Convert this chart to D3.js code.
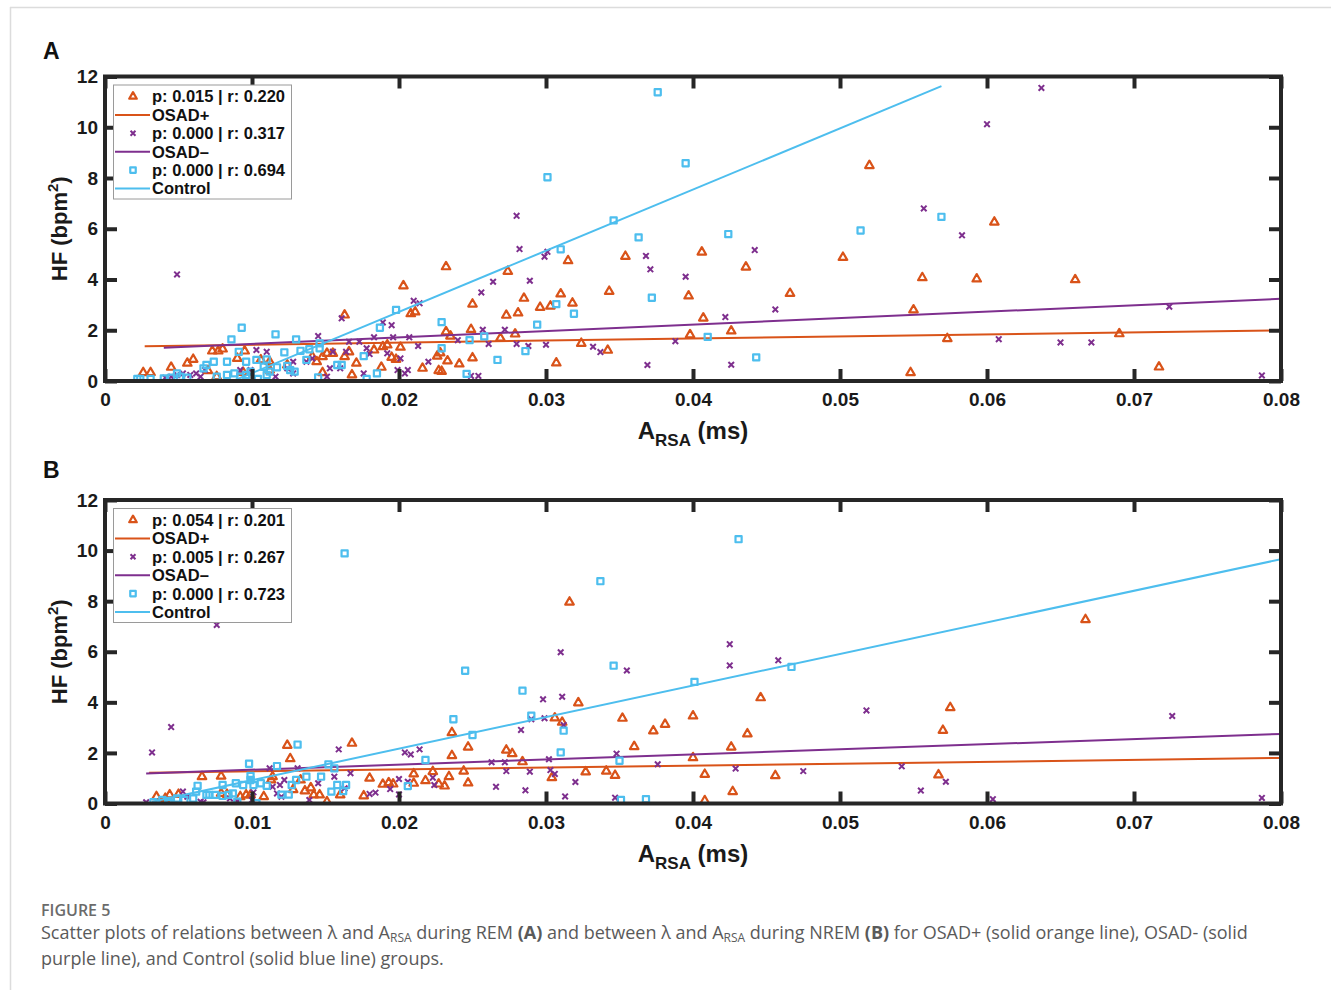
<!DOCTYPE html>
<html>
<head>
<meta charset="utf-8">
<script src="https://cdn.jsdelivr.net/npm/d3@7"></script>
<style>
  body { margin: 0; background: #fff; }
  svg text { font-family: "Liberation Sans", Arial, Helvetica, sans-serif; }
  svg .caption text { font-family: "Open Sans", "Noto Sans", sans-serif; }
</style>
</head>
<body>
<svg id="fig" width="1331" height="990"></svg>
<script>
// ---- data ----
const xTicks = [0, 0.01, 0.02, 0.03, 0.04, 0.05, 0.06, 0.07, 0.08];
const xTickLabels = ['0', '0.01', '0.02', '0.03', '0.04', '0.05', '0.06', '0.07', '0.08'];
const yTicks = [0, 2, 4, 6, 8, 10, 12];
const groupNames = ['OSAD+', 'OSAD\u2013', 'Control'];
const groupColors = ['#D95319', '#7E2F8E', '#4DBEEE'];

const remStats = ['p: 0.015 | r: 0.220', 'p: 0.000 | r: 0.317', 'p: 0.000 | r: 0.694'];
const nremStats = ['p: 0.054 | r: 0.201', 'p: 0.005 | r: 0.267', 'p: 0.000 | r: 0.723'];

// panel A (REM): [A_RSA, HF]
const remOsadPos = [
  [0.0520,8.49],[0.0232,4.5],[0.0274,4.32],[0.0315,4.74],[0.0354,4.91],[0.0406,5.08],[0.0502,4.87],
  [0.0436,4.49],[0.0556,4.07],[0.0250,3.03],[0.0285,3.26],[0.0310,3.43],[0.0343,3.53],[0.0466,3.45],
  [0.0397,3.35],[0.0296,2.9],[0.0303,2.95],[0.0318,3.07],[0.0273,2.59],[0.0281,2.68],[0.0550,2.8],
  [0.0407,2.48],[0.0426,1.97],[0.0398,1.82],[0.0232,1.94],[0.0235,1.77],[0.0249,2.03],[0.0269,1.69],
  [0.0279,1.85],[0.0324,1.48],[0.0342,1.21],[0.0250,0.91],[0.0233,0.79],[0.0241,0.67],[0.0307,0.71],
  [0.0548,0.33],[0.0229,0.38],[0.0605,6.26],[0.0593,4.02],[0.0660,3.99],[0.0573,1.67],[0.0690,1.86],
  [0.0717,0.55],[0.0203,3.75],[0.0163,2.6],[0.0208,2.65],[0.0211,2.72],[0.0073,1.18],[0.0077,1.18],
  [0.0080,1.26],[0.0095,1.18],[0.0060,0.85],[0.0056,0.7],[0.0045,0.54],[0.0026,0.33],[0.0031,0.33],
  [0.0070,0.41],[0.0076,0.17],[0.0090,0.89],[0.0106,0.83],[0.0112,0.76],[0.0112,0.43],[0.0094,0.34],
  [0.0124,0.63],[0.0141,0.96],[0.0144,0.76],[0.0148,0.96],[0.0151,1.09],[0.0155,1.09],[0.0163,0.96],
  [0.0166,1.15],[0.0171,0.7],[0.0168,0.24],[0.0148,0.33],[0.0189,1.35],[0.0192,1.42],[0.0195,0.93],
  [0.0198,0.85],[0.0201,1.33],[0.0216,0.5],[0.0227,0.41],[0.0226,0.98],[0.0228,1.11],[0.0188,0.54],
  [0.0183,1.22]
];
const remOsadNeg = [
  [0.0280,6.51],[0.0282,5.2],[0.0299,4.9],[0.0301,5.09],[0.0368,4.93],[0.0371,4.4],[0.0442,5.16],
  [0.0395,4.11],[0.0264,3.91],[0.0289,3.95],[0.0256,3.49],[0.0456,2.82],[0.0422,2.52],[0.0257,2.02],
  [0.0272,2.02],[0.0240,1.61],[0.0261,1.46],[0.0280,1.46],[0.0288,1.38],[0.0300,1.43],[0.0332,1.35],
  [0.0337,1.14],[0.0388,1.57],[0.0369,0.63],[0.0426,0.64],[0.0249,0.2],[0.0254,0.2],[0.0637,11.55],
  [0.0600,10.12],[0.0557,6.8],[0.0583,5.74],[0.0724,2.93],[0.0608,1.65],[0.0650,1.52],[0.0671,1.52],
  [0.0787,0.22],[0.0049,4.2],[0.0161,2.47],[0.0210,3.16],[0.0214,3.06],[0.0189,2.31],[0.0195,2.2],
  [0.0145,1.77],[0.0166,1.55],[0.0173,1.55],[0.0183,1.72],[0.0196,1.72],[0.0207,1.72],[0.0213,1.38],
  [0.0103,1.22],[0.0110,1.15],[0.0128,0.76],[0.0141,0.89],[0.0155,1.15],[0.0164,1.15],[0.0178,1.29],
  [0.0180,1.06],[0.0192,1.09],[0.0201,0.89],[0.0153,0.5],[0.0160,0.5],[0.0151,0.17],[0.0176,0.3],
  [0.0199,0.43],[0.0204,0.3],[0.0206,0.43],[0.0220,0.76],[0.0053,0.3],[0.0058,0.24],[0.0062,0.3],
  [0.0065,0.17],[0.0041,0.13],[0.0045,0.17],[0.0049,0.24],[0.0068,0.43],[0.0092,0.43],[0.0099,0.43],
  [0.0116,0.17],[0.0124,0.5],[0.0128,0.3],[0.0137,0.76]
];
const remControl = [
  [0.0376,11.38],[0.0395,8.58],[0.0301,8.03],[0.0346,6.33],[0.0363,5.66],[0.0424,5.79],[0.0310,5.19],
  [0.0514,5.93],[0.0569,6.47],[0.0372,3.28],[0.0307,3.03],[0.0319,2.65],[0.0229,2.32],[0.0294,2.22],
  [0.0258,1.76],[0.0248,1.61],[0.0410,1.74],[0.0286,1.18],[0.0229,1.29],[0.0267,0.83],[0.0443,0.93],
  [0.0246,0.28],[0.0093,2.1],[0.0116,1.84],[0.0086,1.64],[0.0130,1.64],[0.0198,2.8],[0.0187,2.1],
  [0.0091,1.15],[0.0122,1.13],[0.0133,1.19],[0.0139,1.25],[0.0146,1.29],[0.0146,1.48],[0.0074,0.76],
  [0.0083,0.76],[0.0096,0.76],[0.0103,0.83],[0.0110,0.85],[0.0069,0.63],[0.0108,0.56],[0.0117,0.54],
  [0.0124,0.59],[0.0126,0.43],[0.0129,0.37],[0.0137,0.83],[0.0158,0.63],[0.0161,0.63],[0.0176,0.98],
  [0.0185,0.3],[0.0178,0.08],[0.0145,0.14],[0.0022,0.08],[0.0024,0.08],[0.0031,0.08],[0.0040,0.1],
  [0.0045,0.13],[0.0051,0.17],[0.0056,0.13],[0.0049,0.3],[0.0076,0.17],[0.0083,0.24],[0.0088,0.3],
  [0.0092,0.17],[0.0096,0.24],[0.0099,0.37],[0.0104,0.08],[0.0110,0.24],[0.0112,0.37],[0.0067,0.5]
];
// fitted lines: [start, end] for OSAD+, OSAD-, Control
const remFits = [
  [[0.0027,1.37],[0.080,2.0]],
  [[0.0040,1.31],[0.080,3.24]],
  [[0.0087,0.0],[0.0569,11.62]]
];

// panel B (NREM)
const nremOsadPos = [
  [0.0316,7.96],[0.0446,4.18],[0.0322,3.98],[0.0352,3.37],[0.0400,3.46],[0.0381,3.13],[0.0373,2.87],
  [0.0437,2.75],[0.0236,2.8],[0.0306,3.38],[0.0311,3.21],[0.0247,2.23],[0.0273,2.11],[0.0277,1.97],
  [0.0360,2.25],[0.0426,2.23],[0.0236,1.89],[0.0284,1.65],[0.0400,1.81],[0.0244,1.28],[0.0234,1.06],
  [0.0231,0.69],[0.0247,0.81],[0.0304,1.02],[0.0327,1.25],[0.0341,1.28],[0.0347,1.11],[0.0408,1.15],
  [0.0456,1.1],[0.0427,0.47],[0.0408,0.11],[0.0667,7.27],[0.0575,3.79],[0.0570,2.89],[0.0567,1.13],
  [0.0168,2.38],[0.0223,1.26],[0.0210,1.17],[0.0180,1.0],[0.0189,0.76],[0.0193,0.82],[0.0196,0.77],
  [0.0210,0.8],[0.0218,0.9],[0.0227,0.77],[0.0176,0.3],[0.0124,2.3],[0.0126,1.77],[0.0066,1.06],
  [0.0079,1.08],[0.0113,0.93],[0.0114,1.06],[0.0133,0.93],[0.0160,0.34],[0.0142,0.34],[0.0146,0.34],
  [0.0151,0.07],[0.0035,0.27],[0.0044,0.34],[0.0050,0.36],[0.0041,0.2],[0.0079,0.4],[0.0083,0.36],
  [0.0092,0.27],[0.0096,0.34],[0.0099,0.34],[0.0108,0.27],[0.0136,0.5],[0.0140,0.62],[0.0128,0.55]
];
const nremOsadNeg = [
  [0.0425,6.3],[0.0425,5.46],[0.0310,5.98],[0.0355,5.26],[0.0458,5.66],[0.0518,3.68],[0.0298,4.12],
  [0.0311,4.22],[0.0299,3.37],[0.0290,3.33],[0.0283,2.91],[0.0312,3.1],[0.0348,1.97],[0.0263,1.63],
  [0.0272,1.63],[0.0302,1.75],[0.0273,1.28],[0.0289,1.26],[0.0303,1.32],[0.0306,1.17],[0.0376,1.55],
  [0.0429,1.38],[0.0475,1.28],[0.0542,1.47],[0.0555,0.51],[0.0320,0.85],[0.0266,0.66],[0.0286,0.52],
  [0.0313,0.28],[0.0347,0.23],[0.0726,3.46],[0.0572,0.86],[0.0604,0.17],[0.0787,0.22],[0.0076,7.06],
  [0.0045,3.02],[0.0032,2.02],[0.0159,2.14],[0.0204,2.02],[0.0208,1.94],[0.0214,2.14],[0.0180,0.38],
  [0.0184,0.43],[0.0200,0.97],[0.0194,0.57],[0.0200,0.36],[0.0206,0.86],[0.0223,1.02],[0.0224,0.73],
  [0.0112,1.39],[0.0114,0.66],[0.0119,0.73],[0.0122,0.93],[0.0131,1.39],[0.0156,1.06],[0.0163,0.6],
  [0.0139,0.14],[0.0028,0.05],[0.0053,0.47],[0.0056,0.27],[0.0065,0.07],[0.0067,0.05],[0.0100,0.14],
  [0.0101,0.44],[0.0117,0.4],[0.0120,0.27],[0.0085,0.2],[0.0090,0.1],[0.0145,0.8],[0.0167,1.2]
];
const nremControl = [
  [0.0431,10.45],[0.0337,8.79],[0.0245,5.25],[0.0346,5.45],[0.0284,4.46],[0.0401,4.81],[0.0467,5.4],
  [0.0237,3.33],[0.0290,3.47],[0.0250,2.71],[0.0312,2.88],[0.0310,2.02],[0.0350,1.69],[0.0351,0.14],
  [0.0368,0.17],[0.0163,9.89],[0.0131,2.33],[0.0098,1.57],[0.0117,1.48],[0.0099,1.09],[0.0099,0.93],
  [0.0063,0.7],[0.0080,0.73],[0.0089,0.8],[0.0094,0.73],[0.0101,0.73],[0.0106,0.8],[0.0110,0.7],
  [0.0127,0.73],[0.0130,0.93],[0.0137,1.06],[0.0147,1.06],[0.0156,1.39],[0.0158,0.73],[0.0152,1.55],
  [0.0164,0.73],[0.0154,0.47],[0.0162,0.49],[0.0033,0.05],[0.0039,0.14],[0.0043,0.1],[0.0044,0.01],
  [0.0049,0.2],[0.0054,0.14],[0.0060,0.2],[0.0062,0.47],[0.0069,0.34],[0.0071,0.34],[0.0075,0.34],
  [0.0080,0.3],[0.0084,0.34],[0.0087,0.4],[0.0090,0.07],[0.0103,0.01],[0.0218,1.72],[0.0206,0.69],
  [0.0120,0.35],[0.0125,0.35]
];
const nremFits = [
  [[0.0030,1.22],[0.080,1.8]],
  [[0.0028,1.19],[0.080,2.75]],
  [[0.0032,0.07],[0.080,9.66]]
];

// ---- drawing ----
const svg = d3.select('#fig');
const symbols = [d3.symbolTriangle2, d3.symbolTimes, d3.symbolSquare2];
const symbolSizes = [52, 22, 48];
const symbolWidths = [2.2, 2, 2.2];

// page frame
svg.append('line').attr('x1', 10).attr('x2', 1331).attr('y1', 7.5).attr('y2', 7.5)
  .attr('stroke', '#dcdcdc').attr('stroke-width', 1.5);
svg.append('line').attr('x1', 10.5).attr('x2', 10.5).attr('y1', 7).attr('y2', 990)
  .attr('stroke', '#dcdcdc').attr('stroke-width', 1.5);

function drawPanel(top, bottom, letter, letterY, seriesList, fits, stats, clipId) {
  const x = d3.scaleLinear().domain([0, 0.08]).range([105, 1281]);
  const y = d3.scaleLinear().domain([0, 12]).range([bottom, top]);
  const g = svg.append('g');

  g.append('clipPath').attr('id', clipId)
    .append('rect').attr('x', 105).attr('y', top).attr('width', 1176).attr('height', bottom - top);

  const plot = g.append('g').attr('clip-path', 'url(#' + clipId + ')');
  const line = d3.line().x(d => x(d[0])).y(d => y(d[1]));

  seriesList.forEach((pts, i) => {
    const sym = d3.symbol(symbols[i], symbolSizes[i]);
    plot.append('g').selectAll('path')
      .data(pts)
      .enter().append('path')
      .attr('d', sym)
      .attr('transform', d => 'translate(' + x(d[0]) + ',' + y(d[1]) + ')')
      .attr('fill', 'none')
      .attr('stroke', groupColors[i])
      .attr('stroke-width', symbolWidths[i])
      .attr('stroke-linejoin', 'round');
    plot.append('path')
      .datum(fits[i])
      .attr('d', line)
      .attr('fill', 'none')
      .attr('stroke', groupColors[i])
      .attr('stroke-width', 2);
  });

  // axes, ticks pointing inward like matlab
  const fmt = (d, i) => xTickLabels[i];
  const axes = [
    [d3.axisBottom(x).tickValues(xTicks).tickFormat(fmt).tickPadding(12), 'translate(0,' + bottom + ')'],
    [d3.axisTop(x).tickValues(xTicks).tickFormat(''), 'translate(0,' + top + ')'],
    [d3.axisLeft(y).tickValues(yTicks).tickPadding(7), 'translate(105,0)'],
    [d3.axisRight(y).tickValues(yTicks).tickFormat(''), 'translate(1281,0)']
  ];
  axes.forEach(a => {
    const ax = g.append('g').attr('transform', a[1])
      .call(a[0].tickSizeInner(-12).tickSizeOuter(0));
    ax.select('.domain').remove();
    ax.selectAll('line').attr('stroke', '#262626').attr('stroke-width', 4);
    ax.selectAll('text')
      .attr('font-family', '"Liberation Sans", Arial, sans-serif')
      .attr('font-size', 19).attr('font-weight', 'bold').attr('fill', '#1a1a1a');
  });

  g.append('rect')
    .attr('x', 105).attr('y', top).attr('width', 1176).attr('height', bottom - top)
    .attr('fill', 'none').attr('stroke', '#262626').attr('stroke-width', 4);

  // axis labels
  const xl = g.append('text')
    .attr('x', 693).attr('y', bottom + 58)
    .attr('text-anchor', 'middle')
    .attr('font-size', 24).attr('font-weight', 'bold').attr('fill', '#1a1a1a');
  xl.append('tspan').text('A');
  xl.append('tspan').attr('dy', 7).attr('font-size', 17).text('RSA');
  xl.append('tspan').attr('dy', -7).text(' (ms)');

  const yl = g.append('text')
    .attr('transform', 'translate(67,' + ((top + bottom) / 2) + ') rotate(-90)')
    .attr('text-anchor', 'middle')
    .attr('font-size', 22).attr('font-weight', 'bold').attr('fill', '#1a1a1a');
  yl.append('tspan').text('HF (bpm');
  yl.append('tspan').attr('dy', -9).attr('font-size', 15).text('2');
  yl.append('tspan').attr('dy', 9).text(')');

  g.append('text')
    .attr('x', 43).attr('y', letterY)
    .attr('font-size', 23).attr('font-weight', 'bold').attr('fill', '#111')
    .text(letter);

  // legend
  const boxTop = top + 8.5;
  const leg = g.append('g');
  leg.append('rect')
    .attr('x', 113.5).attr('y', boxTop).attr('width', 178).attr('height', 114)
    .attr('fill', '#fff').attr('stroke', '#9a9a9a').attr('stroke-width', 1);
  groupNames.forEach((name, i) => {
    const yMark = boxTop + 11.5 + 2 * i * 18.4;
    const yLine = yMark + 18.4;
    leg.append('path')
      .attr('d', d3.symbol(symbols[i], symbolSizes[i] * 0.8))
      .attr('transform', 'translate(133,' + yMark + ')')
      .attr('fill', 'none').attr('stroke', groupColors[i])
      .attr('stroke-width', symbolWidths[i]).attr('stroke-linejoin', 'round');
    leg.append('text').attr('x', 152).attr('y', yMark).attr('dy', '0.36em')
      .attr('font-size', 16.5).attr('font-weight', 'bold').attr('fill', '#111')
      .text(stats[i]);
    leg.append('line')
      .attr('x1', 115).attr('x2', 150).attr('y1', yLine).attr('y2', yLine)
      .attr('stroke', groupColors[i]).attr('stroke-width', 2);
    leg.append('text').attr('x', 152).attr('y', yLine).attr('dy', '0.36em')
      .attr('font-size', 16.5).attr('font-weight', 'bold').attr('fill', '#111')
      .text(name);
  });
}

drawPanel(76.5, 381, 'A', 59, [remOsadPos, remOsadNeg, remControl], remFits, remStats, 'clipA');
drawPanel(500, 803.5, 'B', 478, [nremOsadPos, nremOsadNeg, nremControl], nremFits, nremStats, 'clipB');

// caption
const cap = svg.append('g').attr('class', 'caption');
cap.append('text').attr('x', 41).attr('y', 916)
  .attr('font-size', 16).attr('font-weight', 600).attr('fill', '#6b6b6b')
  .text('FIGURE 5');
const c1 = cap.append('text').attr('x', 41).attr('y', 939)
  .attr('font-size', 18).attr('fill', '#5a5a5a');
c1.append('tspan').text('Scatter plots of relations between \u03bb and A');
c1.append('tspan').attr('dy', 3).attr('font-size', 12).text('RSA');
c1.append('tspan').attr('dy', -3).text(' during REM ');
c1.append('tspan').attr('font-weight', 'bold').text('(A)');
c1.append('tspan').text(' and between \u03bb and A');
c1.append('tspan').attr('dy', 3).attr('font-size', 12).text('RSA');
c1.append('tspan').attr('dy', -3).text(' during NREM ');
c1.append('tspan').attr('font-weight', 'bold').text('(B)');
c1.append('tspan').text(' for OSAD+ (solid orange line), OSAD- (solid');
cap.append('text').attr('x', 41).attr('y', 965)
  .attr('font-size', 18).attr('fill', '#5a5a5a')
  .text('purple line), and Control (solid blue line) groups.');
</script>
</body>
</html>
